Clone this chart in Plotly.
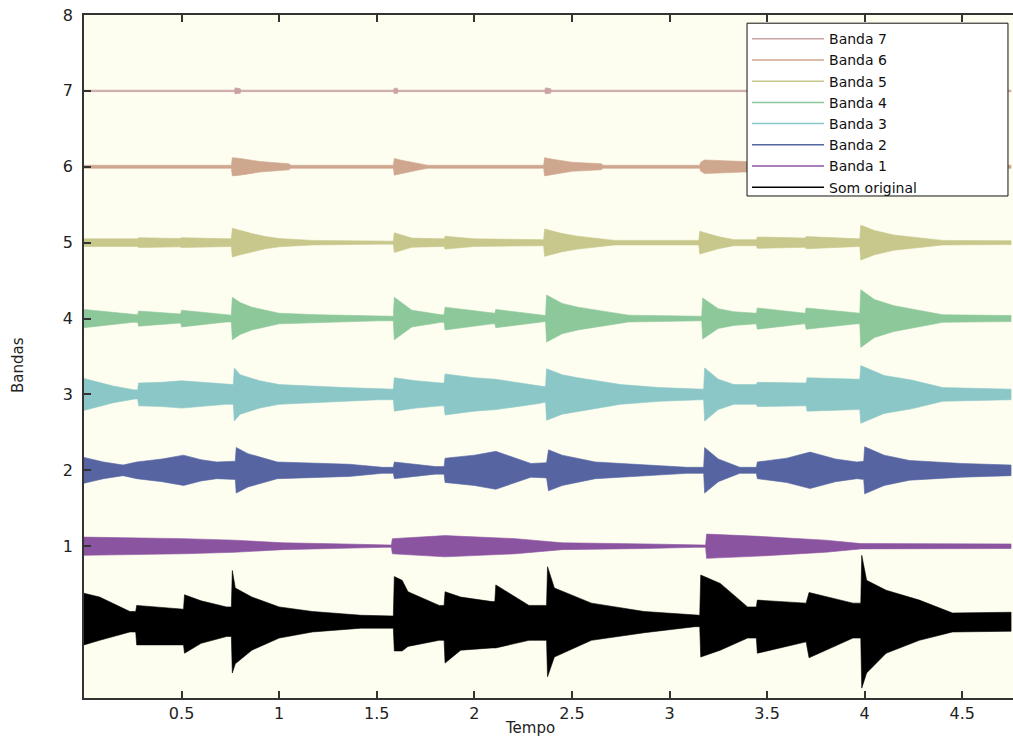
import plotly.graph_objects as go

# ---------------- data ----------------
band_names = ["Banda 7", "Banda 6", "Banda 5", "Banda 4", "Banda 3", "Banda 2", "Banda 1", "Som original"]
band_offsets = [7, 6, 5, 4, 3, 2, 1, 0]
band_colors = ["#C9A3A6", "#CFA68E", "#C8C78C", "#8DC89B", "#8CC7C8", "#5665A2", "#8B54A1", "#000000"]

x_tick_vals = [0.5, 1, 1.5, 2, 2.5, 3, 3.5, 4, 4.5]
x_tick_text = ["0.5", "1", "1.5", "2", "2.5", "3", "3.5", "4", "4.5"]
y_tick_vals = [1, 2, 3, 4, 5, 6, 7, 8]
y_tick_text = ["1", "2", "3", "4", "5", "6", "7", "8"]

# envelope (time, half-amplitude) for each band
band7_env = [(0, 0.01), (0.77, 0.01), (0.775, 0.04), (0.80, 0.03), (0.805, 0.01), (1.585, 0.01),
             (1.59, 0.035), (1.605, 0.035), (1.61, 0.01), (2.36, 0.01), (2.365, 0.04), (2.39, 0.03),
             (2.395, 0.01), (4.75, 0.01)]
band6_env = [(0, 0.02), (0.755, 0.02), (0.76, 0.12), (0.80, 0.11), (0.90, 0.07), (1.05, 0.04),
             (1.06, 0.02), (1.585, 0.02), (1.59, 0.11), (1.62, 0.09), (1.70, 0.05), (1.76, 0.02),
             (2.355, 0.02), (2.36, 0.12), (2.40, 0.10), (2.50, 0.06), (2.65, 0.04), (2.66, 0.02),
             (3.155, 0.02), (3.16, 0.06), (3.18, 0.09), (3.25, 0.08), (3.38, 0.07), (3.97, 0.03),
             (3.98, 0.10), (4.10, 0.06), (4.30, 0.03), (4.75, 0.02)]
band5_env = [(0, 0.05), (0.275, 0.05), (0.28, 0.065), (0.49, 0.055), (0.50, 0.065), (0.755, 0.05),
             (0.76, 0.19), (0.80, 0.16), (0.86, 0.12), (0.93, 0.08), (1.0, 0.055), (1.17, 0.03),
             (1.50, 0.02), (1.585, 0.02), (1.59, 0.13), (1.68, 0.06), (1.845, 0.05), (1.85, 0.085),
             (2.0, 0.05), (2.355, 0.04), (2.36, 0.18), (2.45, 0.12), (2.53, 0.085), (2.72, 0.03),
             (3.15, 0.03), (3.155, 0.15), (3.25, 0.08), (3.33, 0.04), (3.445, 0.04), (3.45, 0.075),
             (3.695, 0.06), (3.70, 0.08), (3.975, 0.05), (3.98, 0.23), (4.05, 0.16), (4.15, 0.10),
             (4.40, 0.03), (4.75, 0.025)]
band4_env = [(0, 0.12), (0.12, 0.09), (0.25, 0.05), (0.275, 0.05), (0.28, 0.10), (0.49, 0.06),
             (0.495, 0.06), (0.50, 0.11), (0.73, 0.045), (0.755, 0.045), (0.76, 0.28), (0.80, 0.21),
             (0.86, 0.15), (1.0, 0.07), (1.2, 0.05), (1.51, 0.03), (1.585, 0.03), (1.59, 0.28),
             (1.68, 0.11), (1.83, 0.05), (1.845, 0.05), (1.85, 0.15), (2.09, 0.07), (2.105, 0.07),
             (2.11, 0.12), (2.33, 0.05), (2.365, 0.04), (2.37, 0.31), (2.45, 0.20), (2.53, 0.15),
             (2.79, 0.045), (3.16, 0.03), (3.165, 0.03), (3.17, 0.27), (3.25, 0.13), (3.33, 0.09),
             (3.445, 0.07), (3.45, 0.14), (3.69, 0.07), (3.695, 0.07), (3.70, 0.14), (3.96, 0.07),
             (3.975, 0.07), (3.98, 0.38), (4.05, 0.25), (4.15, 0.17), (4.40, 0.05), (4.75, 0.04)]
band3_env = [(0, 0.21), (0.08, 0.16), (0.15, 0.11), (0.26, 0.06), (0.275, 0.06), (0.28, 0.15),
             (0.40, 0.16), (0.50, 0.18), (0.73, 0.13), (0.765, 0.13), (0.77, 0.35), (0.80, 0.26),
             (0.90, 0.18), (1.0, 0.13), (1.34, 0.09), (1.51, 0.07), (1.585, 0.07), (1.59, 0.22),
             (1.70, 0.18), (1.83, 0.15), (1.845, 0.15), (1.85, 0.27), (2.0, 0.22), (2.11, 0.20),
             (2.33, 0.12), (2.365, 0.10), (2.37, 0.34), (2.45, 0.26), (2.53, 0.22), (2.75, 0.13),
             (2.95, 0.09), (3.16, 0.07), (3.175, 0.07), (3.18, 0.35), (3.25, 0.20), (3.33, 0.13),
             (3.445, 0.13), (3.45, 0.16), (3.70, 0.15), (3.705, 0.22), (3.96, 0.20), (3.975, 0.20),
             (3.98, 0.38), (4.10, 0.25), (4.24, 0.19), (4.40, 0.09), (4.75, 0.07)]
band2_env = [(0, 0.17), (0.10, 0.11), (0.20, 0.07), (0.27, 0.11), (0.40, 0.15), (0.51, 0.20),
             (0.60, 0.14), (0.68, 0.11), (0.775, 0.12), (0.78, 0.30), (0.84, 0.22), (0.99, 0.11),
             (1.36, 0.08), (1.53, 0.04), (1.585, 0.04), (1.59, 0.11), (1.80, 0.05), (1.845, 0.05),
             (1.85, 0.16), (2.0, 0.20), (2.11, 0.25), (2.29, 0.09), (2.37, 0.10), (2.38, 0.27),
             (2.45, 0.20), (2.62, 0.11), (3.09, 0.04), (3.175, 0.04), (3.18, 0.30), (3.25, 0.15),
             (3.36, 0.04), (3.445, 0.04), (3.45, 0.11), (3.60, 0.16), (3.72, 0.24), (3.85, 0.15),
             (3.96, 0.11), (3.995, 0.12), (4.0, 0.31), (4.10, 0.20), (4.23, 0.13), (4.50, 0.09),
             (4.75, 0.07)]
band1_env = [(0, 0.12), (0.51, 0.10), (0.77, 0.08), (1.02, 0.045), (1.33, 0.03), (1.53, 0.015),
             (1.575, 0.015), (1.58, 0.10), (1.85, 0.14), (2.21, 0.10), (2.45, 0.045), (2.88, 0.03),
             (3.13, 0.015), (3.185, 0.015), (3.19, 0.16), (3.46, 0.13), (3.80, 0.08), (3.98, 0.035),
             (4.75, 0.03)]
# original sound: (time, upper amplitude, lower amplitude)
original_env = [(0.0, 0.38, 0.30), (0.08, 0.33, 0.24), (0.235, 0.14, 0.13), (0.265, 0.14, 0.13),
                (0.27, 0.22, 0.30), (0.49, 0.17, 0.30), (0.51, 0.17, 0.30), (0.515, 0.36, 0.41),
                (0.60, 0.28, 0.28), (0.73, 0.20, 0.19), (0.755, 0.20, 0.19), (0.76, 0.68, 0.67),
                (0.775, 0.45, 0.55), (0.86, 0.33, 0.37), (1.0, 0.20, 0.21), (1.17, 0.14, 0.13),
                (1.42, 0.09, 0.08), (1.585, 0.08, 0.08), (1.59, 0.60, 0.38), (1.63, 0.55, 0.38),
                (1.66, 0.40, 0.32), (1.82, 0.22, 0.24), (1.845, 0.22, 0.24), (1.85, 0.40, 0.54),
                (1.93, 0.33, 0.37), (2.09, 0.27, 0.34), (2.105, 0.27, 0.34), (2.11, 0.49, 0.34),
                (2.28, 0.22, 0.24), (2.37, 0.22, 0.24), (2.375, 0.73, 0.72), (2.41, 0.45, 0.46),
                (2.60, 0.25, 0.24), (2.87, 0.14, 0.14), (3.13, 0.09, 0.06), (3.155, 0.09, 0.06),
                (3.16, 0.62, 0.46), (3.26, 0.51, 0.37), (3.40, 0.20, 0.21), (3.445, 0.20, 0.21),
                (3.45, 0.29, 0.41), (3.70, 0.25, 0.26), (3.715, 0.39, 0.47), (3.94, 0.25, 0.21),
                (3.98, 0.25, 0.21), (3.985, 0.88, 0.87), (4.01, 0.55, 0.67), (4.11, 0.42, 0.41),
                (4.28, 0.29, 0.24), (4.45, 0.12, 0.13), (4.75, 0.13, 0.12)]

band_envs = [band7_env, band6_env, band5_env, band4_env, band3_env, band2_env, band1_env]

# ---------------- figure ----------------
fig = go.Figure()


def add_band(t, upper, lower, color):
    fig.add_trace(go.Scatter(
        x=list(t) + list(t)[::-1],
        y=list(upper) + list(lower)[::-1],
        mode="lines", fill="toself", fillcolor=color,
        line=dict(color=color, width=0.6),
        showlegend=False, hoverinfo="skip"))


# original sound first
ot = [p[0] for p in original_env]
add_band(ot, [band_offsets[7] + p[1] for p in original_env],
         [band_offsets[7] - p[2] for p in original_env], band_colors[7])
for env, off, col in zip(band_envs, band_offsets[:7], band_colors[:7]):
    t = [p[0] for p in env]
    add_band(t, [off + p[1] for p in env], [off - p[1] for p in env], col)

# legend entries (line samples)
for name, col in zip(band_names, band_colors):
    fig.add_trace(go.Scatter(x=[None], y=[None], mode="lines", name=name,
                             line=dict(color=col, width=1.5)))

axis_font = dict(family="DejaVu Sans, Arial, sans-serif", size=16, color="#222222")

fig.update_layout(
    width=1013, height=738,
    margin=dict(l=84, r=0, t=15, b=40),
    paper_bgcolor="white", plot_bgcolor="#FEFEF0",
    font=axis_font,
    showlegend=True,
    legend=dict(x=0.7137, y=0.988, xanchor="left", yanchor="top",
                bgcolor="rgba(0,0,0,0)", borderwidth=0,
                font=dict(family="DejaVu Sans, Arial, sans-serif", size=14, color="#111111"),
                itemwidth=72, tracegroupgap=0, traceorder="normal"),
    shapes=[
        # legend frame
        dict(type="rect", xref="paper", yref="paper", x0=0.7137, x1=0.9946, y0=0.735, y1=0.988,
             fillcolor="white", line=dict(color="#111111", width=1), layer="above"),
    ],
    xaxis=dict(range=[0, 4.76], tickvals=x_tick_vals, ticktext=x_tick_text,
               showgrid=False, zeroline=False, showline=True, linecolor="#333333", linewidth=1.5,
               mirror="ticks", ticks="inside", ticklen=7, tickcolor="#333333", tickwidth=1.5,
               tickfont=axis_font),
    yaxis=dict(range=[-1, 8], tickvals=y_tick_vals, ticktext=y_tick_text,
               showgrid=False, zeroline=False, showline=True, linecolor="#333333", linewidth=1.5,
               mirror=False, ticks="inside", ticklen=7, tickcolor="#333333", tickwidth=1.5,
               tickfont=axis_font, ticklabelstandoff=6),
    annotations=[
        dict(text="Tempo", x=0.480, y=-0.044, xref="paper", yref="paper",
             xanchor="center", yanchor="middle", showarrow=False,
             font=dict(family="DejaVu Sans, Arial, sans-serif", size=15, color="#222222")),
        dict(text="Bandas", x=-0.071, y=0.4876, xref="paper", yref="paper",
             xanchor="center", yanchor="middle", showarrow=False, textangle=-90,
             font=dict(family="DejaVu Sans, Arial, sans-serif", size=15, color="#222222")),
    ],
)

fig.write_html("out.html")
